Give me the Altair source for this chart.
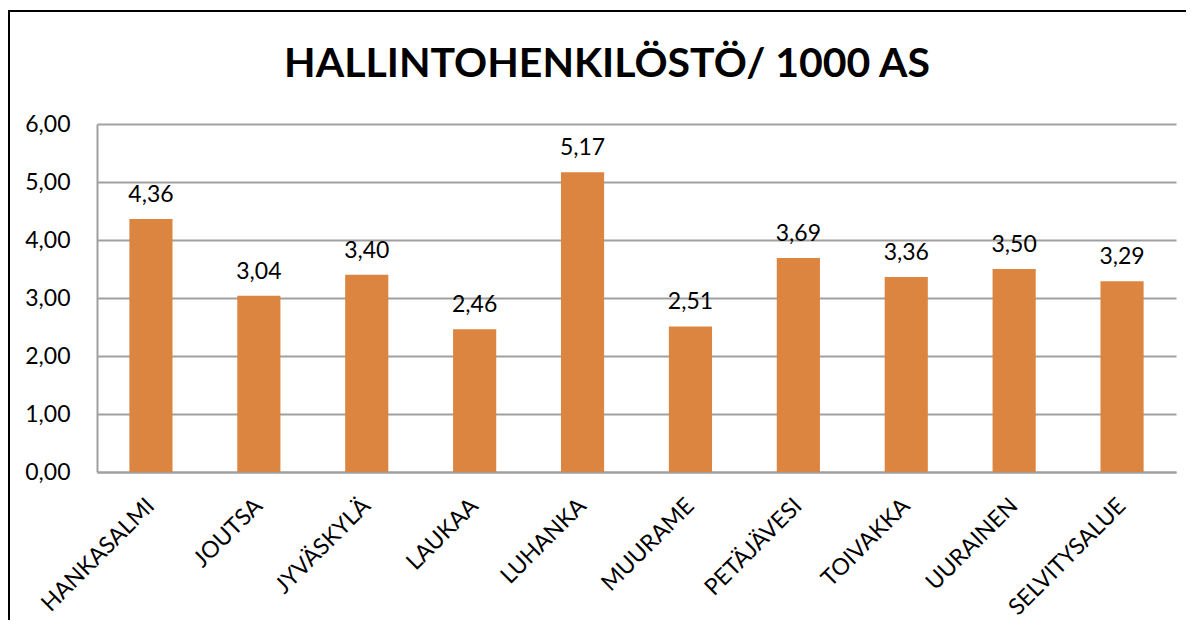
import altair as alt
import pandas as pd

categories = ["HANKASALMI", "JOUTSA", "JYVÄSKYLÄ", "LAUKAA", "LUHANKA",
              "MUURAME", "PETÄJÄVESI", "TOIVAKKA", "UURAINEN", "SELVITYSALUE"]
values = [4.36, 3.04, 3.40, 2.46, 5.17, 2.51, 3.69, 3.36, 3.50, 3.29]
y_ticks = [0, 1, 2, 3, 4, 5, 6]
title_text = "HALLINTOHENKILÖSTÖ/ 1000 AS"

df = pd.DataFrame({
    "kunta": categories,
    "arvo": values,
    "label": [f"{v:.2f}".replace(".", ",") for v in values],
})

FONT = "Lato"
BAR = "#DC8541"

x_enc = alt.X("kunta:N", sort=categories, title=None,
              scale=alt.Scale(paddingInner=0.6, paddingOuter=0.3),
              axis=alt.Axis(labelAngle=-45, labelAlign="right", labelBaseline="middle",
                            labelPadding=30, ticks=False, domainColor="#A0A0A0",
                            domainWidth=2, labelFontSize=23, labelFont=FONT,
                            labelColor="#000000", labelBound=False))
y_enc = alt.Y("arvo:Q", title=None,
              scale=alt.Scale(domain=[0, 6]),
              axis=alt.Axis(values=y_ticks, labelExpr="replace(format(datum.value, '.2f'), '.', ',')",
                            ticks=False, labelPadding=27, gridColor="#A0A0A0", gridWidth=2,
                            domainColor="#A0A0A0", domainWidth=2, labelFontSize=23,
                            labelFont=FONT, labelColor="#000000"))

bars = alt.Chart(df).mark_bar(color=BAR).encode(x=x_enc, y=y_enc)

labels = alt.Chart(df).mark_text(baseline="bottom", dy=-12, fontSize=23, font=FONT,
                                 color="#000000").encode(
    x=alt.X("kunta:N", sort=categories),
    y=alt.Y("arvo:Q"),
    text="label:N",
)

title = alt.Chart(pd.DataFrame({"t": [title_text]})).mark_text(
    font=FONT, fontSize=41, fontWeight="bold", color="#000000",
    align="center", baseline="alphabetic"
).encode(x=alt.value(510), y=alt.value(-47), text="t:N")

border = alt.Chart(df).mark_rect(fill=None, stroke="#000000", strokeWidth=2).encode(
    x=alt.value(-88), x2=alt.value(1110), y=alt.value(-113), y2=alt.value(700)
)

chart = alt.layer(bars, labels, title, border).properties(
    width=1079, height=348,
    autosize=alt.AutoSizeParams(type="none"),
    padding={"left": 89, "top": 116, "right": 10, "bottom": 148},
).configure_view(stroke=None)

chart.save("out.html", embed_options={"renderer": "svg", "actions": False})
